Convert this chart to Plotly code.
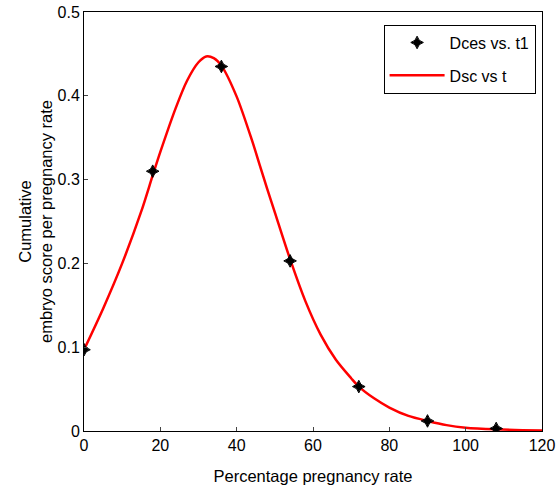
import plotly.graph_objects as go

# Data points (Dces vs. t1)
t1 = [0, 18, 36, 54, 72, 90, 108]
dces = [0.097, 0.310, 0.435, 0.203, 0.053, 0.012, 0.003]

# Fitted curve (Dsc vs t)
t = [0, 5, 10, 15, 18, 20, 24, 27, 30, 32, 34, 36, 40, 44, 46, 48, 50, 54, 58, 62, 66, 70, 72, 76, 80, 85, 90, 95, 100, 108, 120]
dsc = [0.097, 0.146, 0.200, 0.262, 0.305, 0.333, 0.385, 0.418, 0.440, 0.447, 0.445, 0.436, 0.399, 0.347, 0.318, 0.289, 0.261, 0.205, 0.155, 0.115, 0.085, 0.063, 0.053, 0.039, 0.028, 0.018, 0.012, 0.007, 0.004, 0.002, 0.0005]

xticks = [0, 20, 40, 60, 80, 100, 120]
yticks = [0, 0.1, 0.2, 0.3, 0.4, 0.5]
yticktext = ["0", "0.1", "0.2", "0.3", "0.4", "0.5"]

fig = go.Figure()
fig.add_trace(go.Scatter(x=t, y=dsc, mode="lines", name="Dsc vs t", legendgroup="b", legendrank=2,
                         line=dict(color="red", width=2.5, shape="spline", smoothing=0.8)))
fig.add_trace(go.Scatter(x=t1, y=dces, mode="markers", name="Dces vs. t1", legendgroup="a", legendrank=1,
                         marker=dict(symbol="star-diamond", size=9, color="black",
                                     line=dict(color="black", width=1))))

font = "Liberation Sans, Arial, sans-serif"
fig.update_layout(
    width=558, height=495,
    margin=dict(l=84, r=16, t=12, b=64),
    paper_bgcolor="white", plot_bgcolor="white",
    font=dict(family=font, size=15, color="black"),
    showlegend=True,
    legend=dict(x=0.986, y=0.97, xanchor="right", yanchor="top",
                bordercolor="black", borderwidth=1, bgcolor="white",
                traceorder="grouped", font=dict(family=font, size=16),
                itemwidth=55, tracegroupgap=9),
    xaxis=dict(range=[0, 120], tickvals=xticks, ticks="inside", ticklen=4,
               showline=True, linecolor="black", linewidth=1, mirror=True,
               showgrid=False, zeroline=False, automargin=False,
               title=dict(text="Percentage pregnancy rate", font=dict(family=font, size=16.5), standoff=17),
               tickfont=dict(family=font, size=16)),
    yaxis=dict(range=[0, 0.5], tickvals=yticks, ticktext=yticktext,
               ticks="inside", ticklen=4,
               showline=True, linecolor="black", linewidth=1, mirror=True,
               showgrid=False, zeroline=False, automargin=False,
               title=dict(text="Cumulative<br>embryo score per pregnancy rate", font=dict(family=font, size=16.5), standoff=0),
               tickfont=dict(family=font, size=16)),
)
fig.write_html("out.html")
